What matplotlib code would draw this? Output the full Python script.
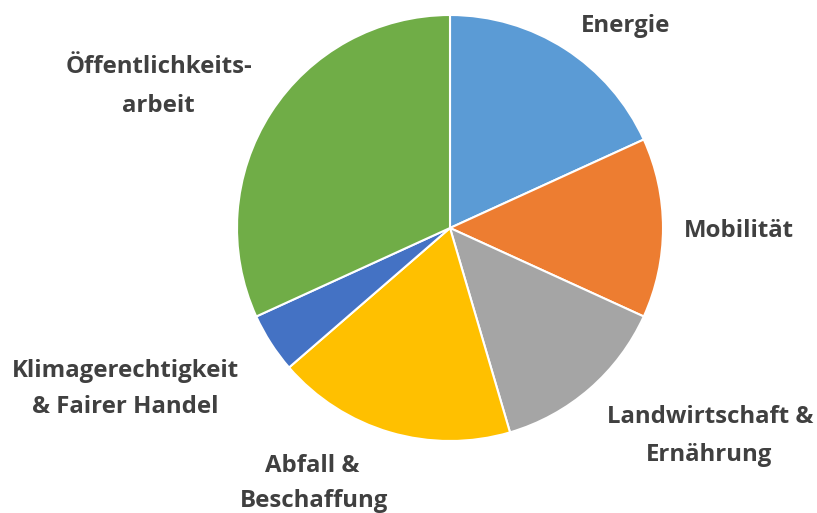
import matplotlib
matplotlib.use("Agg")
import matplotlib.pyplot as plt

categories = ["Energie", "Mobilität", "Landwirtschaft &\nErnährung", "Abfall &\nBeschaffung",
              "Klimagerechtigkeit\n& Fairer Handel", "Öffentlichkeits-\narbeit"]
values = [4, 3, 3, 4, 1, 7]
colors = ["#5B9BD5", "#ED7D31", "#A5A5A5", "#FFC000", "#4472C4", "#70AD47"]

W, H = 817, 513
fig = plt.figure(figsize=(W / 100, H / 100), dpi=100)
ax = fig.add_axes([0, 0, 1, 1])
ax.set_xlim(0, W)
ax.set_ylim(0, H)
ax.set_aspect("equal")
ax.axis("off")

cx, cy, r = 450, H - 228, 213
ax.pie(values, colors=colors, startangle=90, counterclock=False, center=(cx, cy), radius=r,
       wedgeprops=dict(edgecolor="white", linewidth=1.5))
ax.set_xlim(0, W)
ax.set_ylim(0, H)

# label line positions: (center x, baseline y) in pixels from top
label_pos = [
    [(626, 32)],
    [(739, 237)],
    [(710, 423), (709, 461)],
    [(312, 472), (314, 507)],
    [(125, 377), (125, 413)],
    [(159, 73), (158, 112)],
]
for text, pos in zip(categories, label_pos):
    for line, (x, yb) in zip(text.split("\n"), pos):
        ax.text(x, H - yb, line, ha="center", va="baseline", fontsize=17.3,
                fontweight="bold", family="Open Sans", color="#404040")

fig.savefig("out.png", dpi=100)
